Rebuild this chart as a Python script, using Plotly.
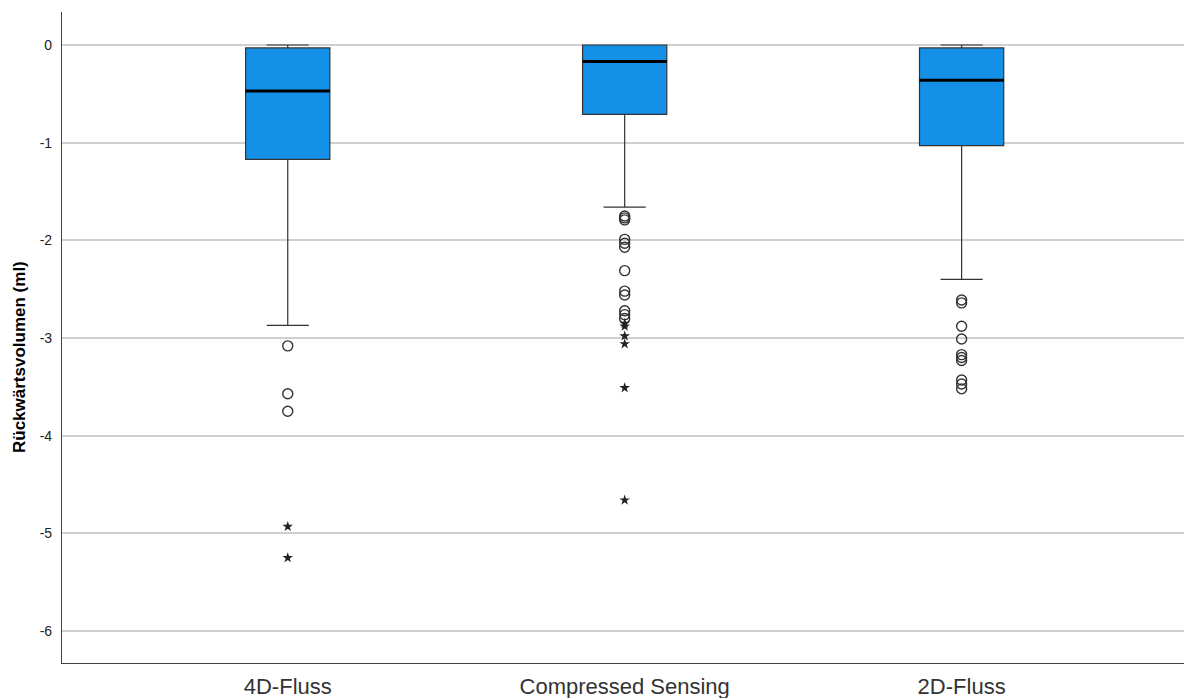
import plotly.graph_objects as go

categories = ["4D-Fluss", "Compressed Sensing", "2D-Fluss"]
q1 = [-1.17, -0.71, -1.03]
median = [-0.47, -0.17, -0.36]
q3 = [-0.03, 0.0, -0.03]
lower_whisker = [-2.87, -1.66, -2.40]
upper_whisker = [0.0, 0.0, 0.0]

outliers_circle = [
    [-3.08, -3.57, -3.75],
    [-1.75, -1.77, -1.79, -1.99, -2.03, -2.07, -2.31, -2.52, -2.56, -2.72, -2.76, -2.80],
    [-2.61, -2.64, -2.88, -3.01, -3.17, -3.20, -3.23, -3.43, -3.47, -3.52],
]
outliers_star = [
    [-4.93, -5.25],
    [-2.85, -2.88, -2.98, -3.06, -3.51, -4.66],
    [],
]

y_tickvals = [0, -1, -2, -3, -4, -5, -6]
y_ticktext = ["0", "-1", "-2", "-3", "-4", "-5", "-6"]

BOX_W = 0.25
fig = go.Figure()
for i, cat in enumerate(categories):
    fig.add_trace(go.Box(
        x=[i], q1=[q1[i]], median=[median[i]], q3=[q3[i]],
        lowerfence=[lower_whisker[i]], upperfence=[upper_whisker[i]],
        width=BOX_W, whiskerwidth=0.5, boxpoints=False,
        fillcolor="#1490E6", line=dict(color="#333333", width=1.2),
        showlegend=False, hoverinfo="skip",
    ))

mx, my = [], []
for i in range(len(categories)):
    mx += [i - BOX_W / 2, i + BOX_W / 2, None]
    my += [median[i], median[i], None]
fig.add_trace(go.Scatter(x=mx, y=my, mode="lines", line=dict(color="black", width=3),
                         showlegend=False, hoverinfo="skip"))

cx, cy, sx, sy = [], [], [], []
for i in range(len(categories)):
    cx += [i] * len(outliers_circle[i]); cy += outliers_circle[i]
    sx += [i] * len(outliers_star[i]); sy += outliers_star[i]
fig.add_trace(go.Scatter(x=cx, y=cy, mode="markers",
                         marker=dict(symbol="circle-open", size=10, color="#333333", line=dict(width=1.4)),
                         showlegend=False))
fig.add_trace(go.Scatter(x=sx, y=sy, mode="markers",
                         marker=dict(symbol="star", size=8, color="#222222", line=dict(width=0)),
                         showlegend=False))

fig.add_annotation(text="<b>Rückwärtsvolumen (ml)</b>", textangle=-90,
                   xref="paper", yref="paper", x=(19 - 62) / 1122, y=(663 - 357) / 651,
                   xanchor="center", yanchor="middle", showarrow=False,
                   font=dict(size=17, color="black"))

fig.update_layout(
    width=1184, height=698,
    margin=dict(l=62, r=0, t=12, b=35),
    plot_bgcolor="white", paper_bgcolor="white",
    font=dict(family="Liberation Sans, Arial", color="#222222"),
    xaxis=dict(range=[-0.67, 2.66], tickvals=[0, 1, 2], ticktext=categories,
               showgrid=False, zeroline=False, showline=True, linecolor="#444444", linewidth=1.2,
               ticks="", ticklabelstandoff=3, tickfont=dict(size=22, color="#333333")),
    yaxis=dict(range=[-6.327, 0.338], tickvals=y_tickvals, ticktext=y_ticktext,
               showgrid=True, gridcolor="#d0d0d0", gridwidth=1.5, zeroline=False,
               showline=True, linecolor="#444444", linewidth=1.2, ticks="",
               ticklabelstandoff=6,
               tickfont=dict(size=14, color="#222222")),
)
fig.write_html("out.html")
